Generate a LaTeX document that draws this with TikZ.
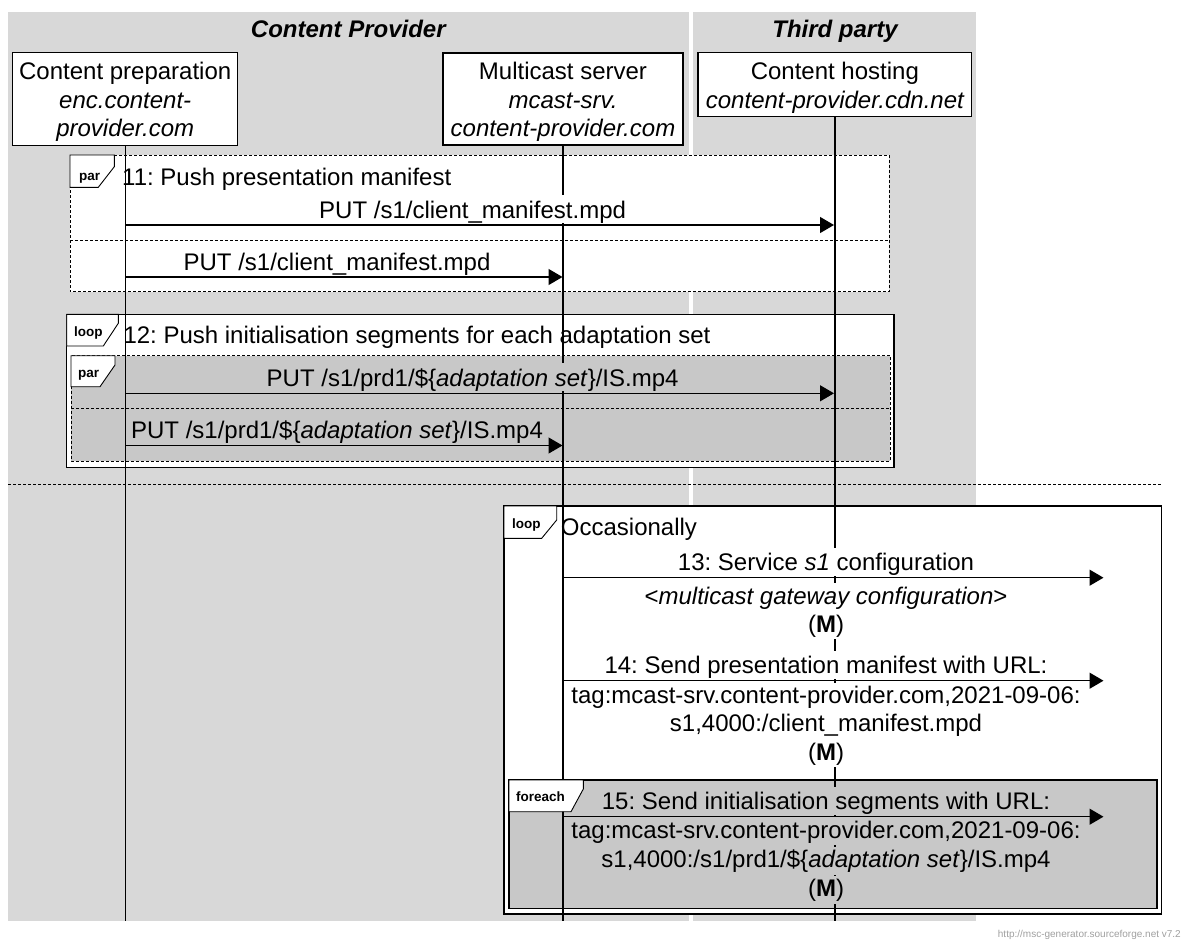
\documentclass[tikz,border=0pt]{standalone}
\usepackage{fontspec}
\setmainfont{Liberation Sans}
\usetikzlibrary{arrows.meta}
\definecolor{bgg}{RGB}{216,216,216}
\definecolor{boxg}{RGB}{200,200,200}
\definecolor{wmg}{RGB}{160,160,160}
\newcommand\mscTag[6]{\draw[tagshape] (#1,#2) -- (#3,#2) -- (#3,#4) -- (#5,#6) -- (#1,#6) -- cycle;}
\frenchspacing
\begin{document}
\frenchspacing
\begin{tikzpicture}[x=1pt,y=-1pt,
  lbl/.style={font=\fontsize{24}{28}\selectfont\frenchspacing, inner sep=0pt, anchor=base},
  ttl/.style={font=\fontsize{24}{28}\selectfont\bfseries\itshape, inner sep=0pt, anchor=base},
  sect/.style={font=\fontsize{24}{28}\selectfont\frenchspacing, inner sep=0pt, anchor=base west},
  abv/.style={lbl, fill=#1, text height=23pt, text depth=5pt, inner xsep=1.5pt},
  blw/.style={lbl, fill=#1, text height=21pt, text depth=7pt, inner xsep=1.5pt},
  tagtxt/.style={font=\fontsize{13.5}{16}\selectfont\bfseries, inner sep=0pt, anchor=base west},
  tagshape/.style={draw=black, fill=white, line width=0.9pt},
  ebox/.style={draw=black, fill=white, line width=1.1pt, inner sep=0pt},
  life/.style={line width=1.3pt},
  msg/.style={line width=1.3pt, -{Triangle[length=14pt,width=16pt]}},
  dashbox/.style={line width=0.9pt, dash pattern=on 3pt off 2pt},
  solidbox/.style={line width=1.3pt},
  wm/.style={font=\fontsize{10}{12}\selectfont, text=wmg, inner sep=0pt, anchor=base east}]
\useasboundingbox (0,0) rectangle (1183,942);
\fill[white] (0,0) rectangle (1183,942);
% background columns
\fill[bgg] (8,12) rectangle (688.5,920.5);
\fill[bgg] (692.7,12) rectangle (975.7,920.5);
\node[ttl] (t1) at (348.3,38) {Content Provider};
\node[ttl] (t2) at (835,38) {Third party};
% entities
\node[ebox, minimum width=225pt, minimum height=93pt] (cp) at (125.2,99.2) {};
\node[ebox, minimum width=240pt, minimum height=92pt] (ms) at (563,99) {};
\node[ebox, minimum width=273.7pt, minimum height=64pt] (ch) at (834.85,84.7) {};
\node[lbl] (cp1) at (125.2,80) {Content preparation};
\node[lbl] (cp2) at (125.2,108.3) {\itshape enc.content-};
\node[lbl] (cp3) at (125.2,136.7) {\itshape provider.com};
\node[lbl] (ms1) at (563,80) {Multicast server};
\node[lbl] (ms2) at (563,108.3) {\itshape mcast-srv.};
\node[lbl] (ms3) at (563,136.7) {\itshape content-provider.com};
\node[lbl] (ch1) at (834.85,80) {Content hosting};
\node[lbl] (ch2) at (834.85,108.3) {\itshape content-provider.cdn.net};
% frames
\filldraw[dashbox, fill=white] (70,155) rectangle (889.3,291.7);
\draw[dashbox] (70,240) -- (889.3,240);
\filldraw[solidbox, fill=white] (66.7,314.3) rectangle (894,467.3);
\filldraw[dashbox, fill=boxg] (71,355.7) rectangle (890,461);
\draw[dashbox] (71,408.3) -- (890,408.3);
\coordinate (sepL) at (8,484);
\coordinate (sepR) at (1161,484);
\draw[dashbox] (sepL) -- (sepR);
\filldraw[solidbox, fill=white] (504,506) rectangle (1161.7,914);
\filldraw[line width=1.5pt, fill=boxg] (509,780) rectangle (1157,908.3);
% lifelines
\coordinate (cpend) at (125.2,920.5);
\coordinate (msend) at (563,920.5);
\coordinate (chend) at (834.85,920.5);
\draw[life] (cp) -- (cpend);
\draw[life] (ms) -- (msend);
\draw[life] (ch) -- (chend);
% tags
\mscTag{70}{155}{114.3}{166.7}{98.3}{187.3}
\node[tagtxt] (tg1) at (79,180) {par};
\mscTag{66.7}{314.3}{118.3}{323.3}{103.3}{346}
\node[tagtxt] (tg2) at (74,336.7) {loop};
\mscTag{71}{355.7}{115}{365}{100}{386.7}
\node[tagtxt] (tg3) at (78,377.3) {par};
\mscTag{504}{506}{556.7}{520}{541.7}{538.3}
\node[tagtxt] (tg4) at (512,528.3) {loop};
\mscTag{509}{780}{583.3}{789}{571}{811.7}
\node[tagtxt] (tg5) at (516,801.7) {foreach};
% section titles
\node[sect] (s11) at (122,185.5) {11: Push presentation manifest};
\node[sect] (s12) at (123.3,343.3) {12: Push initialisation segments for each adaptation set};
\node[sect] (s13) at (560.7,535) {Occasionally};
% arrows
\coordinate (a1s) at (125.2,225); \coordinate (a1e) at (834,225);
\coordinate (a2s) at (125.2,277); \coordinate (a2e) at (562.5,277);
\coordinate (a3s) at (125.2,393.3); \coordinate (a3e) at (834,393.3);
\coordinate (a4s) at (125.2,445.5); \coordinate (a4e) at (562.5,445.5);
\coordinate (a5s) at (563,577.7); \coordinate (a5e) at (1103.5,577.7);
\coordinate (a6s) at (563,680.7); \coordinate (a6e) at (1103.5,680.7);
\coordinate (a7s) at (563,816.7); \coordinate (a7e) at (1103.5,816.7);
\draw[msg] (a1s) -- (a1e);
\draw[msg] (a2s) -- (a2e);
\draw[msg] (a3s) -- (a3e);
\draw[msg] (a4s) -- (a4e);
\draw[msg] (a5s) -- (a5e);
\draw[msg] (a6s) -- (a6e);
\draw[msg] (a7s) -- (a7e);
% labels
\node[abv=white] (l1) at (472.6,218) {PUT /s1/client\_manifest.mpd};
\node[abv=white] (l2) at (337,270) {PUT /s1/client\_manifest.mpd};
\node[abv=boxg] (l3) at (472.6,386.3) {PUT /s1/prd1/\$\{\textit{adaptation set}\}/IS.mp4};
\node[abv=boxg] (l4) at (337,438.5) {PUT /s1/prd1/\$\{\textit{adaptation set}\}/IS.mp4};
\node[abv=white] (l5) at (826,570.7) {13: Service \textit{s1} configuration};
\node[blw=white] (l6) at (826,604) {<\textit{multicast gateway configuration}>};
\node[blw=white] (l7) at (826,632.3) {(\textbf{M})};
\node[abv=white] (l8) at (826,673.7) {14: Send presentation manifest with URL:};
\node[blw=white] (l9) at (826,703.5) {tag:mcast-srv.content-provider.com,2021-09-06:};
\node[blw=white] (l10) at (826,731.7) {s1,4000:/client\_manifest.mpd};
\node[blw=white] (l11) at (826,760) {(\textbf{M})};
\node[abv=boxg] (l12) at (826,809.7) {15: Send initialisation segments with URL:};
\node[blw=boxg] (l13) at (826,838.3) {tag:mcast-srv.content-provider.com,2021-09-06:};
\node[blw=boxg] (l14) at (826,867.5) {s1,4000:/s1/prd1/\$\{\textit{adaptation set}\}/IS.mp4};
\node[blw=boxg] (l15) at (826,896.5) {(\textbf{M})};
% watermark
\node[wm] (wmk) at (1181,937) {http://msc-generator.sourceforge.net v7.2};
\end{tikzpicture}
\end{document}
